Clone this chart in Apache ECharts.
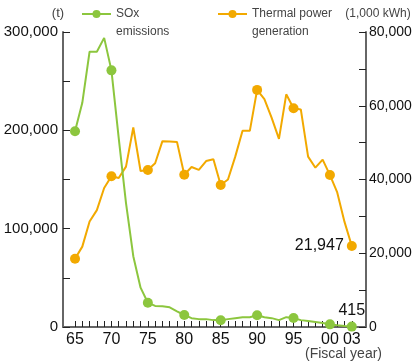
<!DOCTYPE html>
<html>
<head>
<meta charset="utf-8">
<script src="https://cdn.jsdelivr.net/npm/echarts@6/dist/echarts.min.js"></script>
<style>
  html, body { margin: 0; padding: 0; background: #fff; }
  #chart { width: 413px; height: 364px; }
</style>
</head>
<body>
<div id="chart"></div>
<script>
// Fiscal years 1965–2003
const years = [
  1965, 1966, 1967, 1968, 1969, 1970, 1971, 1972, 1973, 1974,
  1975, 1976, 1977, 1978, 1979, 1980, 1981, 1982, 1983, 1984,
  1985, 1986, 1987, 1988, 1989, 1990, 1991, 1992, 1993, 1994,
  1995, 1996, 1997, 1998, 1999, 2000, 2001, 2002, 2003
];

// SOx emissions (t)
const soxEmissions = [
  199000, 228000, 280000, 280000, 294000, 261000, 192000, 126000, 72000, 40000,
  24700, 21400, 21000, 20000, 16000, 12200, 9000, 8000, 8000, 7000,
  6800, 8000, 9000, 10000, 10000, 11900, 10000, 9000, 7000, 10000,
  9200, 7000, 6000, 5000, 4000, 2700, 1800, 1000, 415
];

// Thermal power generation (1,000 kWh)
const thermalPower = [
  18500, 21800, 28600, 31700, 37700, 40900, 40400, 43500, 54100, 42300,
  42600, 44400, 50400, 50300, 50200, 41300, 43400, 42600, 45000, 45500,
  38500, 40000, 46200, 53200, 53200, 64300, 61800, 56700, 51000, 63100,
  59300, 59000, 46200, 43200, 45400, 41200, 36500, 28500, 21947
];

// Years that carry a dot marker
const markedYears = [1965, 1970, 1975, 1980, 1985, 1990, 1995, 2000, 2003];

// Bottom axis: labelled years and yearly tick marks
const xLabelYears = [1965, 1970, 1975, 1980, 1985, 1990, 1995, 2000, 2003];
const xTickYears = years;

const FONT = "'Liberation Sans', Arial, sans-serif";
const GREEN = '#8cc63e';
const ORANGE = '#f2a900';

function withCommas(v) {
  return String(Math.round(v)).replace(/\B(?=(\d{3})+(?!\d))/g, ',');
}

function buildData(values) {
  return years.map((y, i) => ({
    value: [y, values[i]],
    symbol: markedYears.includes(y) ? 'circle' : 'none'
  }));
}

const soxData = buildData(soxEmissions);
const powerData = buildData(thermalPower);
const last = years.length - 1;

soxData[last].label = {
  show: true, position: 'top', distance: 3,
  formatter: () => withCommas(soxEmissions[last]),
  fontFamily: FONT, fontSize: 16, color: '#111'
};
powerData[last].label = {
  show: true, position: 'left', distance: 3,
  formatter: () => withCommas(thermalPower[last]),
  fontFamily: FONT, fontSize: 16, color: '#111'
};

const chart = echarts.init(document.getElementById('chart'), null, { renderer: 'canvas' });

// Legend text: leading blank line keeps the first word level with the icon
const legendText = {
  fontFamily: FONT, fontSize: 12, color: '#444', lineHeight: 18
};

chart.setOption({
  animation: false,
  backgroundColor: '#fff',
  textStyle: { fontFamily: FONT },
  grid: {
    left: 63, right: 47, top: 32, bottom: 37,
    containLabel: false, outerBoundsMode: 'none'
  },
  legend: [
    {
      data: ['SOx emissions'], left: 81, top: -13, padding: 0,
      itemWidth: 29, itemHeight: 10, itemGap: 0,
      formatter: () => '\nSOx\nemissions',
      textStyle: legendText
    },
    {
      data: ['Thermal power generation'], left: 217, top: -13, padding: 0,
      itemWidth: 29, itemHeight: 10, itemGap: 0,
      formatter: () => '\nThermal power\ngeneration',
      textStyle: legendText
    }
  ],
  xAxis: {
    type: 'value',
    min: 1963.35,
    max: 2004.95,
    name: '(Fiscal year)',
    nameLocation: 'end',
    nameGap: -61,
    nameMoveOverlap: false,
    nameTextStyle: {
      fontFamily: FONT, fontSize: 14, color: '#444',
      verticalAlign: 'top', padding: [20, 0, 0, 0]
    },
    axisLine: { show: true, lineStyle: { color: '#666', width: 2 } },
    axisTick: {
      show: true, inside: true, length: 6,
      customValues: xTickYears,
      lineStyle: { color: '#222', width: 1 }
    },
    axisLabel: {
      customValues: xLabelYears,
      formatter: v => String(Math.round(v) % 100).padStart(2, '0'),
      fontFamily: FONT, fontSize: 16, color: '#111', margin: 5
    },
    splitLine: { show: false }
  },
  yAxis: [
    {
      type: 'value',
      min: 0, max: 300000, interval: 50000,
      position: 'left',
      name: '(t)',
      nameLocation: 'end',
      nameGap: 12,
      nameTextStyle: {
        fontFamily: FONT, fontSize: 13, color: '#444', padding: [0, 10, 0, 0]
      },
      axisLine: { show: true, lineStyle: { color: '#666', width: 2 } },
      axisTick: { show: true, inside: true, length: 7, lineStyle: { color: '#222', width: 1 } },
      axisLabel: {
        formatter: v => (v % 100000 === 0 ? withCommas(v) : ''),
        fontFamily: FONT, fontSize: 15, color: '#111', margin: 5
      },
      splitLine: { show: false }
    },
    {
      type: 'value',
      min: 0, max: 80000, interval: 10000,
      position: 'right',
      name: '(1,000 kWh)',
      nameLocation: 'end',
      nameGap: 12,
      nameTextStyle: {
        fontFamily: FONT, fontSize: 12, color: '#444', padding: [0, 0, 0, 24]
      },
      axisLine: { show: true, lineStyle: { color: '#666', width: 2 } },
      axisTick: { show: true, inside: true, length: 7, lineStyle: { color: '#222', width: 1 } },
      axisLabel: {
        formatter: v => (v % 20000 === 0 ? withCommas(v) : ''),
        fontFamily: FONT, fontSize: 14, color: '#111', margin: 3
      },
      splitLine: { show: false }
    }
  ],
  series: [
    {
      name: 'Thermal power generation',
      type: 'line',
      yAxisIndex: 1,
      data: powerData,
      symbol: 'circle',
      symbolSize: 10,
      showAllSymbol: true,
      lineStyle: { color: ORANGE, width: 2 },
      itemStyle: { color: ORANGE },
      z: 2
    },
    {
      name: 'SOx emissions',
      type: 'line',
      yAxisIndex: 0,
      data: soxData,
      symbol: 'circle',
      symbolSize: 10,
      showAllSymbol: true,
      lineStyle: { color: GREEN, width: 2 },
      itemStyle: { color: GREEN },
      z: 3
    }
  ]
});
</script>
</body>
</html>
